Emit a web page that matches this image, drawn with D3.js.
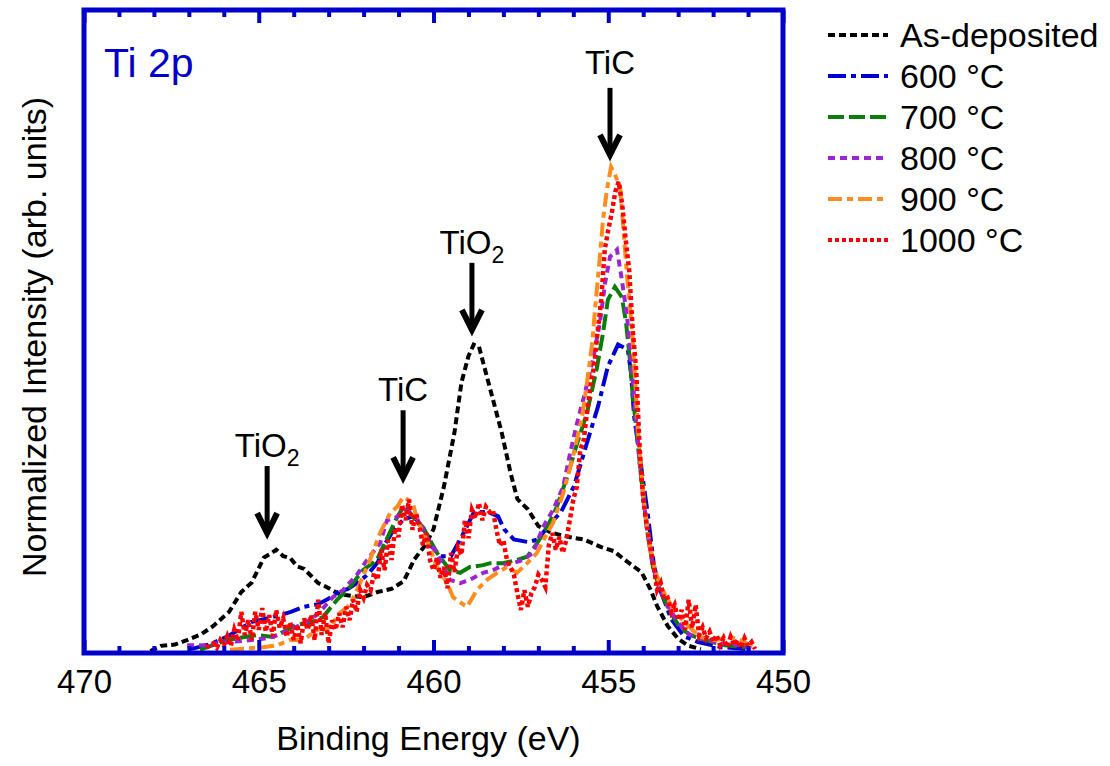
<!DOCTYPE html>
<html><head><meta charset="utf-8">
<script src="https://cdn.jsdelivr.net/npm/d3@7"></script>
<style>body{margin:0;background:#fff}svg{display:block;font-family:"Liberation Sans",Arial,Helvetica,sans-serif}</style>
</head><body><svg id="c" width="1110" height="766"></svg>
<script>
// ---------------- data ----------------
const seriesNames = ["As-deposited", "600 °C", "700 °C", "800 °C", "900 °C", "1000 °C"];
const majorTicks = [470, 465, 460, 455, 450];
const minorTicks = [469,468,467,466,464,463,462,461,459,458,457,456,454,453,452,451];

// [binding energy (eV), normalized intensity (arb.)]
const asDeposited = [[468.1,0],[467.8,0.8],[467.4,1.0],[467.1,1.6],[466.65,2.6],[466.3,3.9],[465.85,6.1],[465.5,9.2],[465.2,10.7],[464.85,14.6],[464.65,15.2],[464.5,15.8],[464.3,14.8],[464.1,14.5],[463.9,13.2],[463.7,12.8],[463.5,11.7],[463.3,10.6],[463.1,10.1],[462.7,8.9],[462.35,8.6],[462.0,8.4],[461.6,9.2],[461.2,9.7],[460.85,10.9],[460.55,14.3],[460.25,16.4],[460.0,19.0],[459.7,25.7],[459.4,34.1],[459.2,41.9],[459.0,46.0],[458.85,47.8],[458.7,47.5],[458.55,44.4],[458.35,40.3],[458.05,34.1],[457.8,27.9],[457.6,23.7],[457.3,22.1],[457.0,19.5],[456.65,18.5],[456.15,17.8],[455.7,17.4],[455.2,16.2],[454.85,15.6],[454.45,13.9],[454.05,12.3],[453.8,9.7],[453.6,7.0],[453.3,3.9],[453.0,1.9],[452.7,0.8],[452.35,0.3]];

const t600 = [[466.94,0.3],[466.37,1.1],[465.88,2.3],[465.22,4.5],[464.45,5.5],[464.08,6.1],[463.71,6.9],[463.30,7.3],[463.02,8.1],[462.73,9.2],[462.45,9.7],[462.16,10.7],[461.87,12.0],[461.59,13.9],[461.42,16.4],[461.13,19.0],[460.84,20.6],[460.56,21.0],[460.27,19.0],[460.07,16.4],[459.79,14.8],[459.50,14.8],[459.13,18.5],[458.84,21.7],[458.44,21.7],[458.15,21.0],[457.98,19.0],[457.70,17.4],[457.30,17.0],[457.01,17.4],[456.72,19.5],[456.35,21.7],[455.98,25.7],[455.58,33.0],[455.29,38.2],[455.01,44.4],[454.72,47.8],[454.44,47.0],[454.35,43.5],[454.26,36.6],[454.06,28.8],[453.86,21.0],[453.69,13.2],[453.49,9.2],[453.20,5.0],[452.83,2.3],[452.43,1.4],[451.77,0.6],[451.0,0.3]];

const t700 = [[466.68,0.2],[465.91,1.7],[465.05,2.5],[464.59,2.2],[463.91,4.1],[463.53,4.4],[463.16,5.3],[462.76,8.0],[462.39,10.0],[462.02,12.6],[461.62,14.2],[461.45,16.2],[461.04,20.9],[460.82,22.8],[460.59,20.9],[460.30,19.3],[460.10,17.3],[459.90,15.3],[459.53,12.6],[459.24,12.2],[458.96,13.1],[458.58,13.4],[458.38,13.7],[458.01,13.7],[457.61,14.2],[457.32,14.7],[457.04,16.8],[456.75,19.3],[456.47,22.5],[456.18,27.1],[455.89,32.4],[455.61,37.1],[455.32,44.3],[455.15,49.6],[455.01,54.8],[454.81,56.8],[454.61,55.2],[454.49,51.2],[454.38,45.4],[454.29,39.2],[454.18,34.0],[454.09,28.7],[453.89,18.9],[453.72,13.1],[453.52,9.5],[453.23,6.1],[452.95,3.7],[452.66,2.5],[452.23,1.7],[451.66,0.9],[450.94,0.5]];

const t800 = [[467.05,0.9],[466.48,0.9],[466.19,1.2],[464.88,1.9],[464.59,2.2],[464.11,3.3],[463.53,4.8],[463.25,6.1],[462.88,8.4],[462.59,9.5],[462.19,11.9],[461.90,14.2],[461.53,16.8],[461.33,20.4],[461.04,20.9],[460.82,22.0],[460.59,21.5],[460.39,20.0],[460.19,17.8],[460.01,16.2],[459.81,14.2],[459.53,11.1],[459.24,10.6],[458.96,11.1],[458.58,12.2],[458.30,12.6],[458.01,13.4],[457.73,13.7],[457.44,14.2],[457.15,15.3],[456.87,19.3],[456.58,22.0],[456.29,25.6],[456.09,30.9],[455.89,35.6],[455.67,40.2],[455.44,45.4],[455.24,51.2],[455.09,57.4],[454.95,61.5],[454.75,62.6],[454.61,57.9],[454.46,52.1],[454.35,45.4],[454.23,37.6],[454.09,28.7],[453.89,18.9],[453.72,13.1],[453.52,9.5],[453.23,6.4],[452.95,4.1],[452.66,2.5],[452.37,2.0],[451.80,1.2],[451.23,0.9],[450.80,0.3]];

const t900 = [[465.82,0.2],[464.88,0.6],[464.48,0.9],[464.11,1.7],[463.73,1.7],[463.33,3.3],[462.96,3.7],[462.68,5.9],[462.39,7.2],[462.10,10.6],[461.82,14.2],[461.53,18.4],[461.24,21.5],[461.04,22.5],[460.87,24.0],[460.73,23.6],[460.59,23.1],[460.47,20.4],[460.19,17.3],[459.90,13.1],[459.61,10.6],[459.44,8.4],[459.24,7.6],[459.04,6.9],[458.76,9.5],[458.47,11.1],[458.18,12.2],[457.90,13.1],[457.61,12.2],[457.32,13.7],[457.04,15.3],[456.75,18.4],[456.58,20.0],[456.29,24.6],[456.01,30.3],[455.75,36.5],[455.61,41.8],[455.46,48.0],[455.38,53.2],[455.24,61.5],[455.15,67.2],[455.04,71.9],[454.92,75.5],[454.81,74.3],[454.66,72.4],[454.58,66.8],[454.46,58.3],[454.32,50.1],[454.23,42.3],[454.15,34.5],[454.06,28.2],[453.95,22.0],[453.81,16.5],[453.66,12.6],[453.52,10.3],[453.32,8.3],[453.09,6.1],[452.86,4.8],[452.60,3.3],[452.37,2.2],[451.95,1.7],[451.52,2.2],[451.23,1.7],[450.80,0.5]];

const t1000 = [[466.5,0.5],[466.4,0.9],[466.3,1.2],[466.2,0.5],[466.1,1.7],[466.0,0.9],[465.9,2.3],[465.8,0.8],[465.7,3.3],[465.6,1.6],[465.5,6.1],[465.4,2.5],[465.3,4.8],[465.2,1.7],[465.1,6.1],[465.0,3.3],[464.9,6.7],[464.8,3.0],[464.7,5.6],[464.6,2.3],[464.5,6.4],[464.4,3.6],[464.3,5.1],[464.2,2.2],[464.1,4.5],[464.0,1.7],[463.9,4.1],[463.8,1.2],[463.7,5.1],[463.6,3.3],[463.5,5.6],[463.4,1.7],[463.3,8.0],[463.2,2.5],[463.1,5.9],[463.0,1.2],[462.9,4.8],[462.8,3.3],[462.7,5.9],[462.6,3.7],[462.5,6.9],[462.4,4.8],[462.3,8.0],[462.2,6.1],[462.1,9.5],[462.0,8.3],[461.9,10.3],[461.8,9.5],[461.7,12.2],[461.6,11.1],[461.5,15.8],[461.4,12.6],[461.3,17.3],[461.2,14.2],[461.1,19.2],[461.0,17.8],[460.9,22.8],[460.8,20.4],[460.7,23.6],[460.6,18.9],[460.5,21.5],[460.4,19.3],[460.3,16.5],[460.2,18.4],[460.1,14.2],[460.0,12.6],[459.9,14.5],[459.8,11.4],[459.7,13.1],[459.6,9.8],[459.5,15.3],[459.4,12.3],[459.3,16.1],[459.2,15.0],[459.1,20.4],[459.0,17.6],[458.9,22.0],[458.8,20.7],[458.7,23.1],[458.6,20.4],[458.5,22.5],[458.4,21.7],[458.3,22.0],[458.2,18.9],[458.1,16.5],[458.0,17.3],[457.9,14.2],[457.8,13.1],[457.7,11.9],[457.6,9.0],[457.5,6.4],[457.4,9.5],[457.3,6.9],[457.2,9.0],[457.1,10.0],[457.0,11.9],[456.9,11.1],[456.8,10.0],[456.7,16.5],[456.6,18.4],[456.5,15.8],[456.4,17.8],[456.3,15.3],[456.2,17.3],[456.1,20.4],[456.0,23.6],[455.9,25.6],[455.8,31.4],[455.7,32.9],[455.6,37.6],[455.5,41.5],[455.4,44.6],[455.3,50.1],[455.2,54.8],[455.1,62.6],[455.0,65.7],[454.9,68.3],[454.8,71.6],[454.7,73.2],[454.6,69.6],[454.5,64.1],[454.4,59.4],[454.3,50.1],[454.2,43.8],[454.1,31.4],[454.0,23.6],[453.9,19.7],[453.8,16.5],[453.7,13.1],[453.6,9.5],[453.5,10.6],[453.4,8.0],[453.3,8.3],[453.2,6.1],[453.1,7.2],[453.0,4.8],[452.9,6.4],[452.8,3.3],[452.7,8.0],[452.6,3.6],[452.5,7.2],[452.4,2.5],[452.3,3.7],[452.2,2.0],[452.1,3.0],[452.0,1.4],[451.9,2.5],[451.8,0.9],[451.7,2.0],[451.6,0.6],[451.5,2.2],[451.4,0.9],[451.3,1.7],[451.2,0.5],[451.1,2.0],[451.0,0.8],[450.9,1.4],[450.8,0.3]];

// annotations: label, subscript, energy of arrow, intensity at arrow tip
const annotationLabels = ["TiO", "TiC", "TiO", "TiC"];
const annotationSubs = ["2", "", "2", ""];
const annotationEnergy = [464.76, 460.87, 458.90, 454.95];
const annotationTip = [18.4, 27.1, 50.1, 77.4];

// ---------------- chart ----------------
const svg = d3.select("#c");
const L = 84, R = 783, T = 10, B = 653;
const x = d3.scaleLinear().domain([470, 450]).range([L, R]);
const y = d3.scaleLinear().domain([0, 100]).range([651, T]);
const frameBlue = "#0000cc";

const styles = [
  {color: "#000000", dash: "7,4", width: 4},
  {color: "#0000d4", dash: "18,5,5,5", width: 4},
  {color: "#0a7d0a", dash: "16,5", width: 4},
  {color: "#9b25d4", dash: "7,5", width: 4},
  {color: "#ff8c1f", dash: "14,5,6,5", width: 4},
  {color: "#ff0000", dash: "4,3", width: 4.5}
];
const allSeries = [asDeposited, t600, t700, t800, t900, t1000];

const line = d3.line().x(d => x(d[0])).y(d => y(d[1]));
const plot = svg.append("g");
allSeries.forEach((s, i) => {
  plot.append("path").datum(s)
    .attr("d", line)
    .attr("fill", "none")
    .attr("stroke", styles[i].color)
    .attr("stroke-width", styles[i].width)
    .attr("stroke-dasharray", styles[i].dash);
});

// frame
svg.append("rect").attr("x", L).attr("y", T).attr("width", R - L).attr("height", B - T)
  .attr("fill", "none").attr("stroke", frameBlue).attr("stroke-width", 5);

// ticks (inward)
function styleAxis(g) {
  g.select(".domain").remove();
  g.selectAll(".tick line").attr("stroke", frameBlue).attr("stroke-width", 4);
}
svg.append("g").attr("transform", `translate(0,${B})`)
  .call(d3.axisBottom(x).tickValues(majorTicks).tickSize(-13).tickPadding(17).tickFormat(d3.format("d")))
  .call(styleAxis)
  .call(g => g.selectAll("text").attr("font-size", 33).attr("fill", "#000").attr("font-family", "Liberation Sans, Arial, sans-serif"));
svg.append("g").attr("transform", `translate(0,${B})`)
  .call(d3.axisBottom(x).tickValues(minorTicks).tickSize(-7).tickFormat(""))
  .call(styleAxis);
svg.append("g").attr("transform", `translate(0,${T})`)
  .call(d3.axisTop(x).tickValues(majorTicks).tickSize(-13).tickFormat(""))
  .call(styleAxis);
svg.append("g").attr("transform", `translate(0,${T})`)
  .call(d3.axisTop(x).tickValues(minorTicks).tickSize(-7).tickFormat(""))
  .call(styleAxis);

// axis titles
svg.append("text").attr("x", (L + R) / 2 - 5).attr("y", 750).attr("text-anchor", "middle")
  .attr("font-size", 34).text("Binding Energy (eV)");
svg.append("text").attr("transform", "translate(46,337) rotate(-90)").attr("text-anchor", "middle")
  .attr("font-size", 34).text("Normalized Intensity (arb. units)");

// panel label
svg.append("text").attr("x", 104).attr("y", 77).attr("font-size", 41).attr("fill", frameBlue).text("Ti 2p");

// annotations
annotationLabels.forEach((lab, i) => {
  const ax = x(annotationEnergy[i]);
  const tip = y(annotationTip[i]);
  const top = tip - 67;
  const t = svg.append("text").attr("x", ax).attr("y", top - (i === 3 ? 14 : 9)).attr("text-anchor", "middle")
    .attr("font-size", 33).text(lab);
  if (annotationSubs[i]) t.append("tspan").attr("font-size", 23).attr("dy", 9).text(annotationSubs[i]);
  svg.append("line").attr("x1", ax).attr("x2", ax).attr("y1", top).attr("y2", tip - 3)
    .attr("stroke", "#000").attr("stroke-width", 5);
  svg.append("path").attr("d", `M${ax - 10},${tip - 20}L${ax},${tip}L${ax + 10},${tip - 20}`)
    .attr("fill", "none").attr("stroke", "#000").attr("stroke-width", 6).attr("stroke-linejoin", "miter");
});

// legend
const legend = svg.append("g");
seriesNames.forEach((name, i) => {
  const base = 47 + i * 41;
  legend.append("line").attr("x1", 828).attr("x2", 888).attr("y1", base - 12).attr("y2", base - 12)
    .attr("stroke", styles[i].color).attr("stroke-width", 4).attr("stroke-dasharray", styles[i].dash);
  legend.append("text").attr("x", 900).attr("y", base).attr("font-size", 34).text(name);
});
</script></body></html>
